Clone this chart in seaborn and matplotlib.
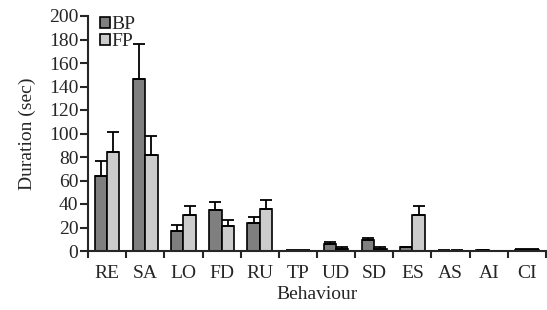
import matplotlib
matplotlib.use("Agg")
import matplotlib.pyplot as plt
import seaborn as sns
import pandas as pd
import numpy as np
from matplotlib.ticker import FixedLocator

categories = ["RE", "SA", "LO", "FD", "RU", "TP", "UD", "SD", "ES", "AS", "AI", "CI"]
bp_mean = [64, 146, 17, 35, 24, 0.4, 6, 9, 3, 0.4, 0.5, 1]
bp_err = [13, 30, 5, 7, 5, 0.2, 2, 2, 0.5, 0.2, 0.5, 0.5]
fp_mean = [84, 82, 31, 21, 36, 0.4, 2, 2, 31, 0.4, 0.2, 1.2]
fp_err = [17, 16, 7, 5, 7, 0.2, 1, 1, 7, 0.2, 0.1, 0.5]
series = ["BP", "FP"]

sns.set_style("ticks")
plt.rcParams['font.family'] = ['Liberation Serif', 'DejaVu Serif']

df = pd.DataFrame({
    "Behaviour": categories * 2,
    "Duration": bp_mean + fp_mean,
    "Group": ["BP"] * len(categories) + ["FP"] * len(categories),
})

fig = plt.figure(figsize=(5.47, 3.10), dpi=100)
ax = fig.add_axes([88/547, 1 - 251/310, 458/547, (251 - 16)/310])

sns.barplot(data=df, x="Behaviour", y="Duration", hue="Group",
            palette={"BP": "#7f7f7f", "FP": "#cccccc"}, order=categories,
            hue_order=series, width=0.65, edgecolor="black", linewidth=1.2,
            errorbar=None, ax=ax)

for cont, errs in zip(ax.containers, [bp_err, fp_err]):
    for patch, e in zip(cont.patches, errs):
        xc = patch.get_x() + patch.get_width() / 2
        h = patch.get_height()
        ax.errorbar(xc, h, yerr=[[0], [e]], fmt="none", ecolor="black",
                    elinewidth=1.3, capsize=4, capthick=1.3, zorder=1)

ax.set_xlim(-0.5, len(categories) - 0.5)
ax.set_ylim(0, 200)
ax.set_yticks(np.arange(0, 201, 20))
ax.xaxis.set_minor_locator(FixedLocator(np.arange(-0.5, len(categories), 1.0)))
ax.tick_params(axis="x", which="major", length=0, labelsize=14, pad=10)
ax.tick_params(axis="x", which="minor", length=5, width=1.5, direction="out")
ax.tick_params(axis="y", length=6, width=1.5, labelsize=14, pad=1)
sns.despine(ax=ax)
for s in ["left", "bottom"]:
    ax.spines[s].set_linewidth(1.5)
ax.set_xlabel("Behaviour", fontsize=14, labelpad=3)
ax.set_ylabel("Duration (sec)", fontsize=14, labelpad=9)

leg = ax.legend(loc="upper left", bbox_to_anchor=(0.026, 1.0), frameon=False,
                fontsize=14, handlelength=0.5, handleheight=0.5, handletextpad=0.1,
                labelspacing=0.0, borderaxespad=0, borderpad=0)
for h in leg.legend_handles:
    h.set_edgecolor("black")
    h.set_linewidth(1.2)

fig.savefig("out.png", dpi=100)
